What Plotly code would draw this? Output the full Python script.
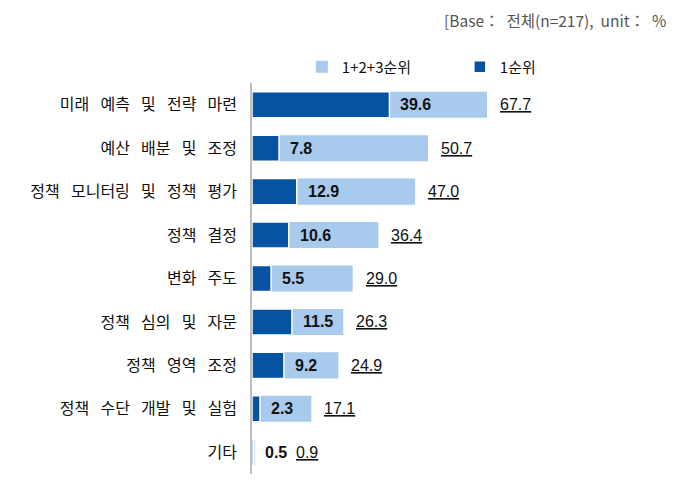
"""Horizontal overlay bar chart: 1순위 vs 1+2+3순위."""

import plotly.graph_objects as go

categories = [
    "미래 예측 및 전략 마련",
    "예산 배분 및 조정",
    "정책 모니터링 및 정책 평가",
    "정책 결정",
    "변화 주도",
    "정책 심의 및 자문",
    "정책 영역 조정",
    "정책 수단 개발 및 실험",
    "기타",
]
rank1 = [39.6, 7.8, 12.9, 10.6, 5.5, 11.5, 9.2, 2.3, 0.5]
rank123 = [67.7, 50.7, 47.0, 36.4, 29.0, 26.3, 24.9, 17.1, 0.9]

DARK = "#0652A3"
LIGHT = "#A8CAEC"
FONT = "Noto Sans CJK KR"
NUM_FONT = "Liberation Sans"

# wider word spacing like the original (Gulim-style) labels
tick_text = [c.replace(" ", "\u2002\u2009") for c in categories]

fig = go.Figure()

fig.add_trace(go.Bar(
    y=categories, x=rank123, orientation="h", name="1+2+3순위",
    marker=dict(color=LIGHT, line=dict(width=0)),
))
fig.add_trace(go.Bar(
    y=categories, x=rank1, orientation="h", name="1순위",
    marker=dict(color=DARK, line=dict(color="white", width=1.5)),
))

for cat, v1, vt in zip(categories, rank1, rank123):
    fig.add_annotation(
        x=v1, y=cat, text=f"<b>{v1:.1f}</b>", showarrow=False,
        xanchor="left", xshift=9, font=dict(family=NUM_FONT, size=16, color="#111"),
    )
    fig.add_annotation(
        x=max(vt, v1 + 8.5), y=cat, text=f"<u>{vt:.1f}</u>", showarrow=False,
        xanchor="left", xshift=11, font=dict(family=NUM_FONT, size=16, color="#111"),
    )

fig.add_annotation(
    xref="paper", yref="paper", x=1.0, y=1.161,
    xanchor="right", yanchor="middle", xshift=4,
    text="[Base：  전체(n=217),  unit：  %",
    showarrow=False, font=dict(family=FONT, size=15.5, color="#555"),
)

# the page body adds an 8px margin, so the figure is a bit smaller than the window
fig.update_layout(
    width=668, height=467,
    barmode="overlay", bargap=0.4,
    plot_bgcolor="white", paper_bgcolor="white",
    margin=dict(l=244, r=12, t=75, b=1, autoexpand=False),
    showlegend=True,
    legend=dict(
        orientation="h", x=0.121, y=1.041, xanchor="left", yanchor="middle",
        font=dict(family=FONT, size=15, color="#111"),
        itemwidth=30, entrywidth=113, traceorder="normal",
    ),
    font=dict(family=FONT, size=16, color="#111"),
)
fig.update_xaxes(range=[0, 118.7], visible=False)
fig.update_yaxes(
    autorange="reversed", showline=True, linecolor="#BFBFBF", linewidth=1.5,
    ticks="", ticklabelstandoff=10, showgrid=False, automargin=False,
    tickmode="array", tickvals=categories, ticktext=tick_text,
    tickfont=dict(family=FONT, size=16, color="#111"),
)

fig.write_html("out.html")
